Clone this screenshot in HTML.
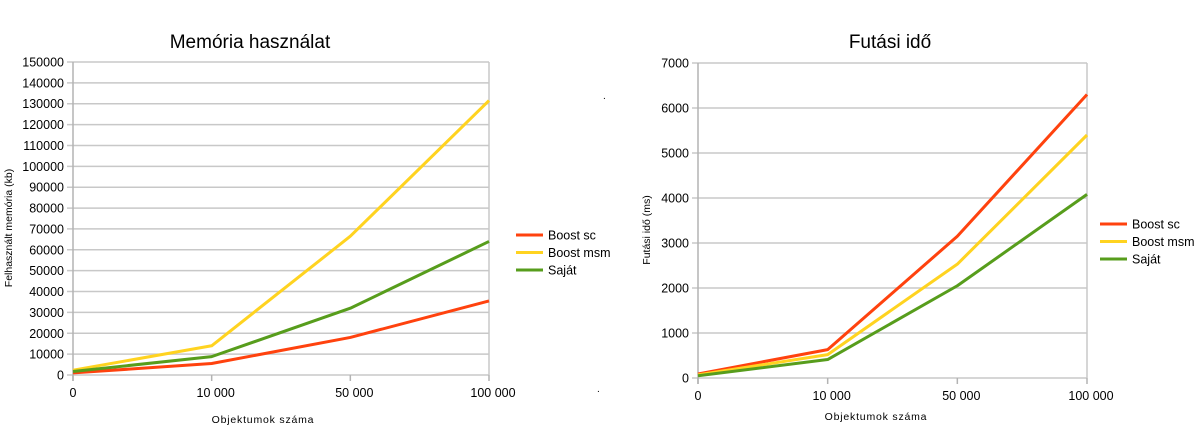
<!DOCTYPE html>
<html><head><meta charset="utf-8"><style>
body{margin:0;background:#fff;}
svg{display:block;font-family:"Liberation Sans",sans-serif;}
</style></head><body>
<svg id="svg" width="1199" height="435" xmlns="http://www.w3.org/2000/svg">
<text x="250" y="48" font-size="19" text-anchor="middle">Memória használat</text>
<text x="890" y="48" font-size="19" text-anchor="middle">Futási idő</text>
<text transform="translate(12,228) rotate(-90)" font-size="10.5" text-anchor="middle">Felhasznált memória (kb)</text>
<text transform="translate(650,230) rotate(-90)" font-size="10.5" text-anchor="middle">Futási idő (ms)</text>
<text x="263" y="423" font-size="10.5" letter-spacing="0.8" text-anchor="middle">Objektumok száma</text>
<text x="876" y="420" font-size="10.5" letter-spacing="0.8" text-anchor="middle">Objektumok száma</text>
<text x="603" y="99" font-size="10">.</text>
<text x="597" y="392" font-size="10">.</text>
<g id="c1"></g><g id="c2"></g>
</svg>
<script>
const categories = ["0","10 000","50 000","100 000"];
const seriesNames = ["Boost sc","Boost msm","Saját"];
const colors = ["#ff420e","#ffd320","#579d1c"];
const memSc = [1000,5500,18000,35500];
const memMsm = [2300,14000,66500,131500];
const memSajat = [1700,8800,32000,64000];
const timeSc = [90,630,3150,6300];
const timeMsm = [70,520,2530,5400];
const timeSajat = [50,410,2050,4080];
const memTicks = [0,10000,20000,30000,40000,50000,60000,70000,80000,90000,100000,110000,120000,130000,140000,150000];
const timeTicks = [0,1000,2000,3000,4000,5000,6000,7000];
const NS="http://www.w3.org/2000/svg";
function mk(g,tag,attrs){const e=document.createElementNS(NS,tag);for(const k in attrs)e.setAttribute(k,attrs[k]);g.appendChild(e);return e;}
function chart(gid,cfg,series,ticks){
  const g=document.getElementById(gid);
  const max=ticks[ticks.length-1];
  const xs=i=>cfg.x0+(cfg.x1-cfg.x0)*i/(categories.length-1);
  const ys=v=>cfg.y0-(cfg.y0-cfg.y1)*v/max;
  ticks.forEach(t=>{
    const l=mk(g,'line',{x1:cfg.x0-6,x2:cfg.x1,y1:ys(t),y2:ys(t),stroke:'#c8c8c8','stroke-width':1.5});
    
    
    const tx=mk(g,'text',{x:cfg.x0-9,y:ys(t)+4.5,'font-size':12.5,'text-anchor':'end'});
    tx.textContent=t;
    
    
  });
  mk(g,'line',{x1:cfg.x1,x2:cfg.x1,y1:cfg.y1,y2:cfg.y0,stroke:'#c8c8c8','stroke-width':1.5});
  mk(g,'line',{x1:cfg.x0,x2:cfg.x0,y1:cfg.y1,y2:cfg.y0+6,stroke:'#b3b3b3','stroke-width':1.5});
  categories.forEach((c,i)=>{
    const tk=mk(g,'line',{x1:xs(i),x2:xs(i),y1:cfg.y0,y2:cfg.y0+6,stroke:'#b3b3b3','stroke-width':1.5});
    
    
    const tx=mk(g,'text',{x:xs(i)+(i==0?0:4),y:cfg.y0+22,'font-size':12.5,'text-anchor':'middle'});
    tx.textContent=c;
    
    
  });
  series.forEach((s,k)=>{
    const p=mk(g,'polyline',{points:s.map((v,i)=>xs(i)+','+ys(v)).join(' '),fill:'none',stroke:colors[k],'stroke-width':3,'stroke-linejoin':'round'});
    
    
    const ly=cfg.ly+k*17.5;
    const ll=mk(g,'line',{x1:cfg.lx,x2:cfg.lx+27,y1:ly,y2:ly,stroke:colors[k],'stroke-width':3});
    
    
    const lt=mk(g,'text',{x:cfg.lx+32,y:ly+4.5,'font-size':12.5});
    lt.textContent=seriesNames[k];
    
    
  });
}
chart('c1',{x0:73,x1:489,y0:375,y1:62,lx:516,ly:235},[memSc,memMsm,memSajat],memTicks);
chart('c2',{x0:698,x1:1087,y0:378,y1:63,lx:1100,ly:224},[timeSc,timeMsm,timeSajat],timeTicks);
</script>
</body></html>
